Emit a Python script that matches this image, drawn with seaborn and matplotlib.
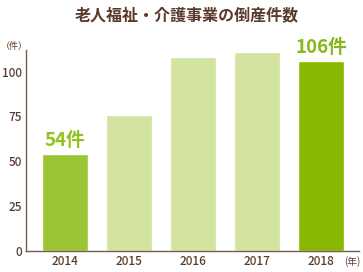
import matplotlib
matplotlib.use("Agg")
import matplotlib.pyplot as plt
import seaborn as sns
import pandas as pd

years = ["2014", "2015", "2016", "2017", "2018"]
counts = [54, 76, 108, 111, 106]
bar_colors = ["#9cc535", "#d2e4a0", "#d2e4a0", "#d2e4a0", "#88b800"]
yticks = [0, 25, 50, 75, 100]
title = "老人福祉・介護事業の倒産件数"
labels = {0: ("54件", "#8fc31f"), 4: ("106件", "#86b81b")}

sns.set_style("white")
plt.rcParams["font.family"] = ["Noto Sans CJK JP", "DejaVu Sans"]

brown = "#5b3c2b"
df = pd.DataFrame({"year": years, "count": counts})

fig = plt.figure(figsize=(3.63, 2.72), dpi=100)
ax = fig.add_axes([0.0716, 0.078, 0.917, 0.738])
sns.barplot(data=df, x="year", y="count", hue="year", palette=bar_colors,
            width=0.72, legend=False, ax=ax, saturation=1)

ax.set_xlim(-0.61, 4.59)
ax.set_ylim(0, 112)
ax.set_yticks(yticks)
ax.set_yticklabels([str(t) for t in yticks])
ax.set_xlabel("")
ax.set_ylabel("")
for s in ["top", "right"]:
    ax.spines[s].set_visible(False)
for s in ["left", "bottom"]:
    ax.spines[s].set_color("#7a5a4a")
    ax.spines[s].set_linewidth(1.0)
ax.tick_params(axis="both", length=0, colors=brown, labelsize=8.5)
ax.tick_params(axis="y", pad=3)
ax.tick_params(axis="x", pad=3)
for lab in ax.get_xticklabels() + ax.get_yticklabels():
    lab.set_fontweight("medium")

for i, (txt, col) in labels.items():
    ax.text(i, counts[i] + 2, txt, ha="center", va="bottom", color=col,
            fontsize=13.5, fontweight="bold")

fig.text(0.515, 0.945, title, ha="center", va="center", color="#5a3a2a",
         fontsize=11.5, fontweight="bold")
fig.text(0.04, 0.83, "（件）", ha="center", va="center", color=brown, fontsize=6.5)
fig.text(0.994, 0.04, "(年)", ha="right", va="center", color=brown, fontsize=7)

fig.savefig("out.png", dpi=100)
